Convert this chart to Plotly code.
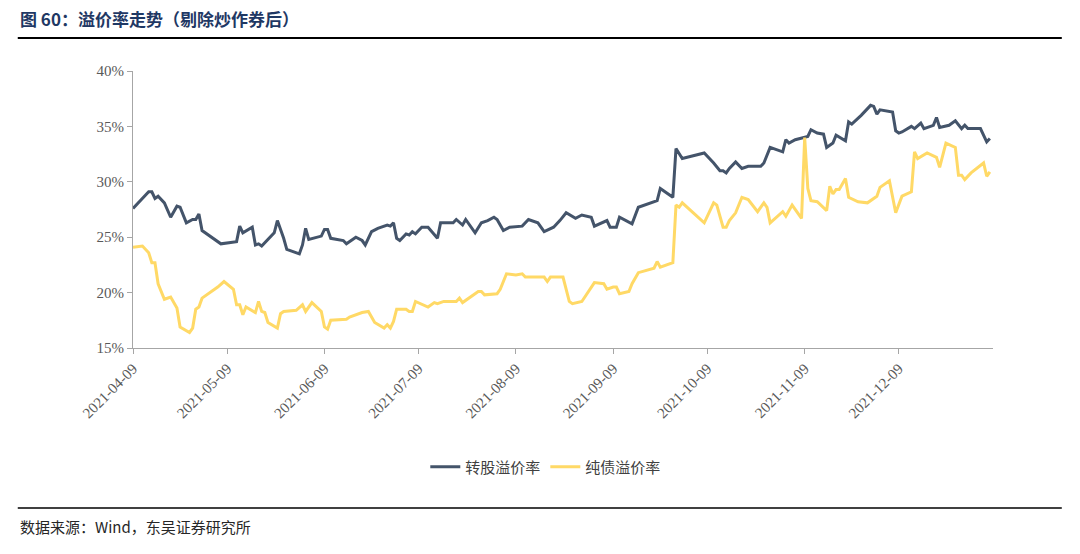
import plotly.graph_objects as go
import pandas as pd

base = pd.Timestamp("2021-04-09")

# days since 2021-04-09
conv_days = [0,5,6,7,8,10,12,14,15,17,19,20,21,22,28,32,33,34,35,38,39,40,41,45,46,48,49,53,54,55,56,60,61,62,63,67,68,71,73,74,76,78,81,82,83,84,85,87,88,89,90,91,92,94,97,98,102,103,105,106,109,111,113,115,116,118,120,124,126,129,131,134,
             136,138,141,143,146,147,151,152,154,155,157,159,161,167,168,172,173,175,182,185,187,188,189,190,192,194,196,200,201,203,207,208,209,211,215,216,218,220,221,223,224,227,228,229,232,235,236,237,238,240,242,243,244,245,248,249,251,252,255,256,257,260,262,264,265,266,270,272,273]
conv_vals = [27.6,29.1,29.1,28.5,28.7,28.1,26.8,27.8,27.7,26.3,26.6,26.6,27.1,25.6,24.4,24.6,24.6,26.0,25.4,25.9,24.3,24.4,24.2,25.4,26.5,24.9,23.9,23.5,24.3,25.8,24.8,25.1,25.7,25.7,24.9,24.7,24.4,25.0,24.7,24.3,25.5,25.8,26.1,26.0,26.3,24.9,24.7,25.3,25.2,25.5,25.3,25.6,25.9,25.9,24.9,26.3,26.3,26.6,26.1,26.6,25.4,26.3,26.5,26.8,26.6,25.6,25.9,26.0,26.6,26.3,25.5,25.9,
             26.5,27.2,26.7,27.0,26.8,26.0,26.5,25.9,25.9,26.8,26.5,26.2,27.7,28.3,29.4,28.6,33.0,32.1,32.6,31.7,31.0,31.0,30.8,31.2,31.8,31.2,31.4,31.4,31.7,33.1,32.7,33.8,33.5,33.8,34.1,34.7,34.4,34.3,33.1,33.5,34.2,33.7,35.4,35.2,36.0,36.9,36.8,36.1,36.5,36.4,36.3,34.6,34.4,34.5,35.0,34.8,35.3,34.8,35.1,35.8,34.9,35.1,35.5,34.8,35.1,34.8,34.8,33.6,33.9]

bond_days = [0,3,5,6,7,8,10,12,14,15,18,19,20,21,22,27,29,32,33,34,35,36,39,40,41,42,43,46,47,48,52,54,55,57,60,61,62,63,68,69,73,75,77,80,81,82,83,84,87,88,89,90,94,96,97,99,103,104,105,110,111,112,116,117,119,122,124,125,131,132,133,137,139,140,143,145,146,147,150,151,153,154,155,158,159,161,166,167,168,172,173,174,175,182,185,186,188,189,190,192,194,196,199,201,202,203,207,208,210,213,214,215,216,218,221,222,223,224,225,227,228,231,234,237,238,241,243,245,248,249,250,253,256,257,259,262,263,264,265,267,271,272,273]
bond_vals = [24.1,24.2,23.6,22.7,22.7,20.8,19.4,19.6,18.6,16.9,16.4,16.8,18.5,18.7,19.5,20.5,21.0,20.3,18.9,18.9,18.0,18.7,18.2,19.2,18.3,18.2,17.3,16.8,18.1,18.3,18.4,18.9,18.3,19.1,18.3,16.9,16.7,17.5,17.6,17.8,18.2,18.3,17.3,16.8,17.1,16.8,17.4,18.5,18.5,18.3,18.3,19.2,18.7,19.1,19.0,19.2,19.2,19.5,19.1,20.1,20.1,19.8,19.9,20.3,21.7,21.6,21.7,21.4,21.4,21.0,21.4,21.4,19.2,19.0,19.2,20.1,20.5,20.9,20.8,20.3,20.5,20.5,19.9,20.1,20.8,21.8,22.2,22.8,22.3,22.7,27.9,27.7,28.1,26.3,28.1,27.9,25.9,25.9,26.5,27.2,28.6,28.4,27.3,28.1,27.7,26.3,27.3,26.9,27.9,26.7,34.0,29.4,28.3,28.2,27.4,29.6,28.9,29.3,29.3,30.3,28.6,28.2,28.1,28.7,29.5,30.1,27.2,28.7,29.1,32.7,32.1,32.6,32.2,31.3,33.5,33.1,30.6,30.6,30.2,30.8,31.7,30.5,30.9]

tick_labels = ["2021-04-09","2021-05-09","2021-06-09","2021-07-09","2021-08-09","2021-09-09","2021-10-09","2021-11-09","2021-12-09"]
y_ticks = [15,20,25,30,35,40]

conv_x = [base + pd.Timedelta(days=d) for d in conv_days]
bond_x = [base + pd.Timedelta(days=d) for d in bond_days]

fig = go.Figure()
fig.add_trace(go.Scatter(x=conv_x, y=conv_vals, mode="lines", name="转股溢价率",
                         line=dict(color="#44546a", width=3)))
fig.add_trace(go.Scatter(x=bond_x, y=bond_vals, mode="lines", name="纯债溢价率",
                         line=dict(color="#ffd966", width=3)))

serif = "Liberation Serif, Times New Roman, serif"
fig.update_layout(
    width=1080, height=554, plot_bgcolor="white", paper_bgcolor="white",
    margin=dict(l=125, r=95, t=63, b=214),
    font=dict(family="Noto Sans CJK SC", color="#404040"),
    legend=dict(orientation="h", x=0.48, xanchor="center", y=-0.43, yanchor="middle",
                font=dict(size=15, color="#404040", family="Noto Sans CJK SC")),
    xaxis=dict(range=[base, base + pd.Timedelta(days=274)], tickmode="array",
               tickvals=[pd.Timestamp(t) for t in tick_labels], ticktext=tick_labels,
               tickangle=-45, tickfont=dict(family=serif, size=15, color="#595959"),
               showgrid=False, showline=True, linecolor="#a6a6a6", linewidth=1,
               ticks="outside", ticklen=5, tickcolor="#a6a6a6"),
    yaxis=dict(range=[15, 40], tickvals=y_ticks, ticktext=[f"{v}%" for v in y_ticks],
               tickfont=dict(family=serif, size=15, color="#595959"),
               showgrid=False, showline=True, linecolor="#a6a6a6", linewidth=1,
               ticks="outside", ticklen=5, tickcolor="#a6a6a6", zeroline=False),
)
fig.add_annotation(xref="paper", yref="paper", x=-0.134, y=1.19, xanchor="left", yanchor="middle",
                   text="<b>图 60：溢价率走势（剔除炒作券后）</b>", showarrow=False,
                   font=dict(size=17, color="#1f3864", family="Noto Sans CJK SC"))
fig.add_annotation(xref="paper", yref="paper", x=-0.134, y=-0.646, xanchor="left", yanchor="middle",
                   text="数据来源：Wind，东吴证券研究所", showarrow=False,
                   font=dict(size=15, color="#262626", family="Noto Sans CJK SC"))
fig.add_shape(type="line", xref="paper", yref="paper", x0=-0.134, x1=1.08, y0=1.119, y1=1.119,
              line=dict(color="black", width=2))
fig.add_shape(type="line", xref="paper", yref="paper", x0=-0.134, x1=1.08, y0=-0.578, y1=-0.578,
              line=dict(color="black", width=1.5))
fig.write_html("out.html")
